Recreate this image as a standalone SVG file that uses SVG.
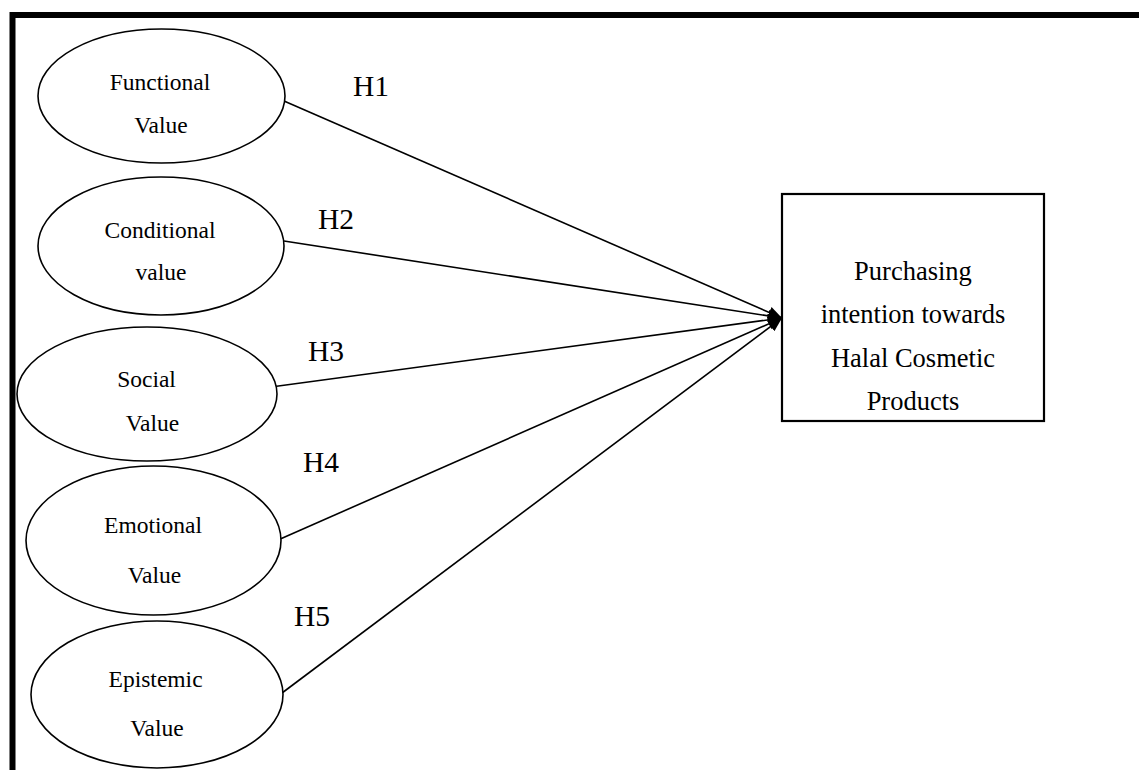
<svg xmlns="http://www.w3.org/2000/svg" width="1139" height="770" viewBox="0 0 1139 770">
<style>
.node ellipse{fill:#fff;stroke:#000;stroke-width:1.6}
.node rect{fill:#fff;stroke:#000;stroke-width:2.2}
text{font-family:"Liberation Serif","Times New Roman",serif;fill:#000;text-anchor:middle}
.t{font-size:23.5px}
.b{font-size:26.5px}
.h{font-size:29.5px;text-anchor:start}
#connectors line{stroke:#000;stroke-width:1.6;marker-end:url(#arr)}
</style>
<defs>
<marker id="arr" markerUnits="userSpaceOnUse" markerWidth="16" markerHeight="14" refX="14" refY="7" orient="auto">
<path d="M0,1 L14,7 L0,13 Z" fill="#000"/>
</marker>
</defs>
<rect width="1139" height="770" fill="#fff"/>
<path d="M12.5,770 V15 H1139" fill="none" stroke="#000" stroke-width="6"/>
<g id="connectors">
<line x1="284" y1="101" x2="782" y2="318"/>
<line x1="284" y1="241" x2="782" y2="318"/>
<line x1="271" y1="387" x2="782" y2="318"/>
<line x1="278" y1="540" x2="782" y2="318"/>
<line x1="278" y1="696" x2="782" y2="318"/>
</g>
<g id="functional" class="node">
<ellipse cx="161.5" cy="96" rx="123.5" ry="67"/>
<text class="t" x="160" y="90">Functional</text>
<text class="t" x="161" y="133">Value</text>
</g>
<g id="conditional" class="node">
<ellipse cx="161" cy="246" rx="123" ry="69"/>
<text class="t" x="160" y="238">Conditional</text>
<text class="t" x="161" y="280">value</text>
</g>
<g id="social" class="node">
<ellipse cx="147" cy="394" rx="130" ry="67"/>
<text class="t" x="146.5" y="387">Social</text>
<text class="t" x="152.5" y="431">Value</text>
</g>
<g id="emotional" class="node">
<ellipse cx="153.5" cy="540.5" rx="127.5" ry="74.5"/>
<text class="t" x="153" y="533">Emotional</text>
<text class="t" x="154.5" y="583">Value</text>
</g>
<g id="epistemic" class="node">
<ellipse cx="157" cy="694.5" rx="126" ry="73.5"/>
<text class="t" x="155.6" y="687">Epistemic</text>
<text class="t" x="157" y="736">Value</text>
</g>
<g id="purchasing" class="node">
<rect x="782" y="194" width="262" height="227"/>
<text class="b" x="913" y="280">Purchasing</text>
<text class="b" x="913" y="323">intention towards</text>
<text class="b" x="913" y="367">Halal Cosmetic</text>
<text class="b" x="913" y="410">Products</text>
</g>
<g id="labels">
<text class="h" x="353" y="96">H1</text>
<text class="h" x="318" y="229">H2</text>
<text class="h" x="308" y="361">H3</text>
<text class="h" x="303" y="472">H4</text>
<text class="h" x="294" y="626">H5</text>
</g>
</svg>
